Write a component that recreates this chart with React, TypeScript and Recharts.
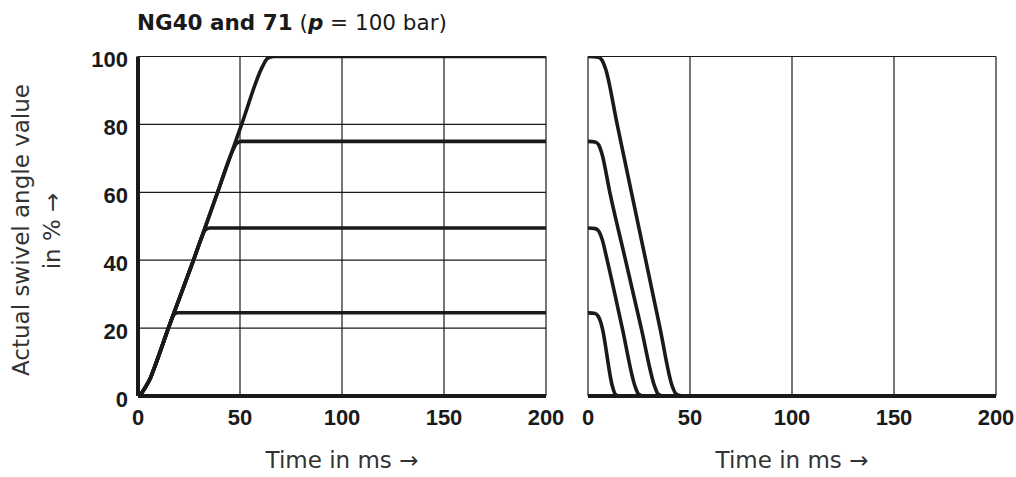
import React from 'react';
import { LineChart, Line, XAxis, YAxis, CartesianGrid } from 'recharts';

// ---- data (time in ms, value in %) ----
const timeTicks = [0, 50, 100, 150, 200];
const valueTicks = [0, 20, 40, 60, 80, 100];

const rampStart = [
  { t: 0, v: 0 }, { t: 1.5, v: 0.6 }, { t: 3.3, v: 2.3 }, { t: 5.8, v: 4.9 }, { t: 8, v: 8.3 }, { t: 14.9, v: 20 },
];

const rise25 = [...rampStart, { t: 16.1, v: 22 }, { t: 17.7, v: 24 }, { t: 19.6, v: 24.5 }, { t: 200, v: 24.5 }];
const rise50 = [...rampStart, { t: 27.2, v: 40 }, { t: 31.2, v: 46.7 }, { t: 32.9, v: 48.9 }, { t: 35, v: 49.5 }, { t: 200, v: 49.5 }];
const rise75 = [...rampStart, { t: 27.2, v: 40 }, { t: 39, v: 60 }, { t: 46.5, v: 72.4 }, { t: 48.3, v: 74.4 }, { t: 50.5, v: 75 }, { t: 200, v: 75 }];
const rise100 = [...rampStart, { t: 27.2, v: 40 }, { t: 39, v: 60 }, { t: 50.8, v: 80 }, { t: 61, v: 97 }, { t: 63.4, v: 99.4 }, { t: 66.5, v: 100 }, { t: 200, v: 100 }];

const fall100 = [
  { t: 0, v: 100 }, { t: 5, v: 99.8 }, { t: 6.8, v: 99 }, { t: 8.6, v: 96.4 }, { t: 14.3, v: 80 }, { t: 21.3, v: 60 },
  { t: 28.3, v: 40 }, { t: 35.3, v: 20 }, { t: 41.3, v: 2.9 }, { t: 43.2, v: 0.6 }, { t: 46.5, v: 0 }, { t: 200, v: 0 },
];
const fall75 = [
  { t: 0, v: 75 }, { t: 3.5, v: 74.8 }, { t: 5.2, v: 74 }, { t: 6.8, v: 71.4 }, { t: 10.7, v: 60 }, { t: 18.4, v: 40 },
  { t: 26.1, v: 20 }, { t: 32.6, v: 3 }, { t: 34.3, v: 0.6 }, { t: 36.8, v: 0 }, { t: 200, v: 0 },
];
const fall50 = [
  { t: 0, v: 49.5 }, { t: 3.5, v: 49.3 }, { t: 5.2, v: 48.6 }, { t: 7, v: 46 }, { t: 9.4, v: 40 }, { t: 16.8, v: 20 },
  { t: 23.1, v: 2.8 }, { t: 24.8, v: 0.5 }, { t: 27, v: 0 }, { t: 200, v: 0 },
];
const fall25 = [
  { t: 0, v: 24.5 }, { t: 3.5, v: 24.3 }, { t: 5, v: 23.5 }, { t: 6.2, v: 21.8 }, { t: 7, v: 20 }, { t: 11.9, v: 3 },
  { t: 13.3, v: 0.6 }, { t: 15.3, v: 0 }, { t: 200, v: 0 },
];

const riseSeries = [rise25, rise50, rise75, rise100];
const fallSeries = [fall25, fall50, fall75, fall100];

const INK = '#1a1a1a';
const LABEL = '#333333';
const tickFont = '"Liberation Sans", Arial, sans-serif';
const tickStyle = { fontFamily: tickFont, fontWeight: 700, fontSize: 22, fill: INK };
const labelFont = '"DejaVu Sans", sans-serif';

const xLabel = (props: any) => {
  const vb = props.viewBox || {};
  return (
    <text x={vb.x + vb.width / 2} y={vb.y + 72} textAnchor="middle" fontFamily={labelFont} fontSize={23} fill={LABEL}>
      Time in ms →
    </text>
  );
};

const YTick = (props: any) => {
  const { x, y, payload } = props;
  return (
    <text x={x} y={y + 10.5} textAnchor="end" fontFamily={tickFont} fontWeight={700} fontSize={22} fill={INK}>
      {payload.value}
    </text>
  );
};

function Panel({ series, left, width, marginLeft, marginRight, showYTicks }: any) {
  return (
    <div style={{ position: 'absolute', left, top: 0 }}>
      <LineChart width={width} height={477} margin={{ top: 56.5, right: marginRight, bottom: 11, left: marginLeft }}>
        <CartesianGrid stroke={INK} strokeWidth={1.2} />
        <XAxis
          type="number"
          dataKey="t"
          domain={[0, 200]}
          ticks={timeTicks}
          allowDataOverflow
          height={70}
          tickSize={0}
          tickMargin={13}
          tickLine={false}
          axisLine={{ stroke: INK, strokeWidth: 4 }}
          tick={tickStyle}
          interval={0}
          label={{ content: xLabel }}
        />
        <YAxis
          type="number"
          dataKey="v"
          domain={[0, 100]}
          ticks={valueTicks}
          allowDataOverflow
          width={showYTicks ? 60 : 0}
          tickSize={0}
          tickMargin={10}
          tickLine={false}
          axisLine={{ stroke: INK, strokeWidth: 4 }}
          tick={showYTicks ? <YTick /> : false}
          interval={0}
        />
        {series.map((d: any[], i: number) => (
          <Line
            key={i}
            data={d}
            dataKey="v"
            type="monotone"
            stroke={INK}
            strokeWidth={3.6}
            strokeLinejoin="round"
            strokeLinecap="round"
            dot={false}
            activeDot={false}
            isAnimationActive={false}
          />
        ))}
      </LineChart>
    </div>
  );
}

export default function App() {
  return (
    <div style={{ position: 'absolute', left: 0, top: 0, width: 1016, height: 477, background: '#fff' }}>
      <Panel series={riseSeries} left={0} width={580} marginLeft={78} marginRight={34} showYTicks />
      <Panel series={fallSeries} left={560} width={456} marginLeft={28} marginRight={20} showYTicks={false} />
      <svg width={1016} height={477} style={{ position: 'absolute', left: 0, top: 0, pointerEvents: 'none' }}>
        <text x={137} y={30} fontFamily={labelFont} fontSize={21.5} fill={INK}>
          <tspan fontWeight={700}>NG40 and 71</tspan>
          <tspan> (</tspan>
          <tspan fontWeight={700} fontStyle="italic">p</tspan>
          <tspan> = 100 bar)</tspan>
        </text>
        <text x={28.5} y={230} transform="rotate(-90 28.5 230)" textAnchor="middle" fontFamily={labelFont} fontSize={23} fill={LABEL}>
          Actual swivel angle value
        </text>
        <text x={60} y={231} transform="rotate(-90 60 231)" textAnchor="middle" fontFamily={labelFont} fontSize={23} fill={LABEL}>
          in % →
        </text>
      </svg>
    </div>
  );
}
